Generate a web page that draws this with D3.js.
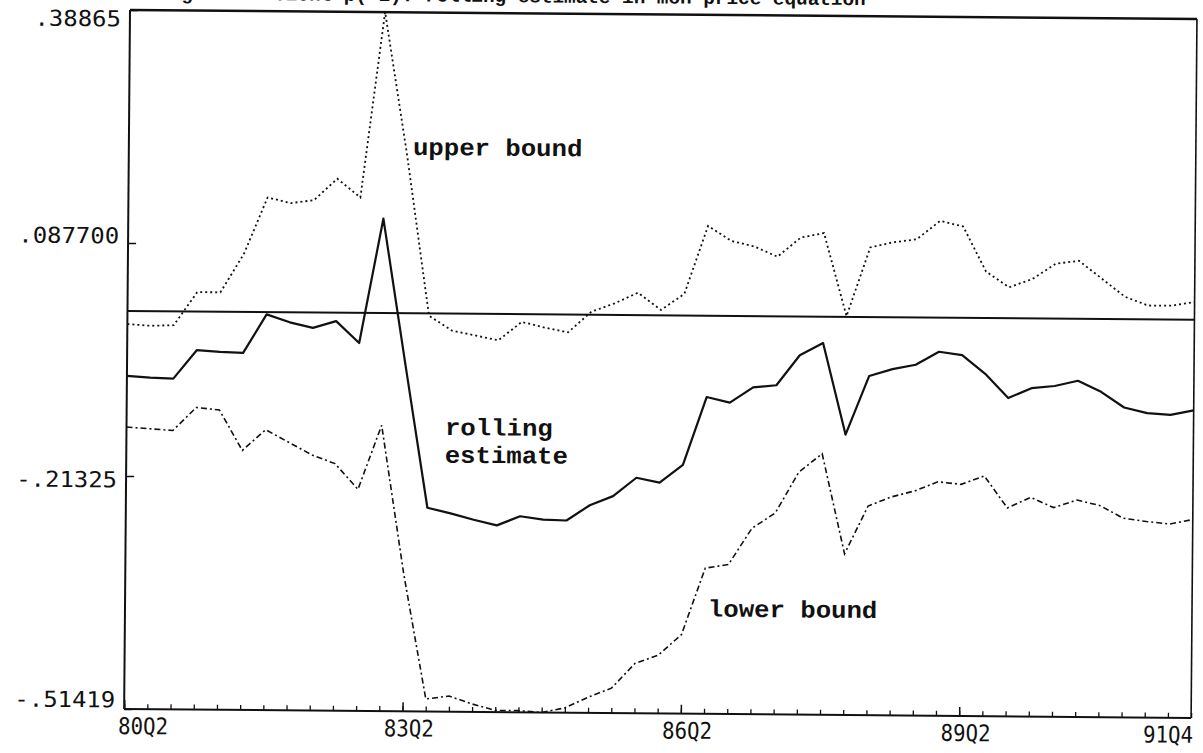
<!DOCTYPE html>
<html>
<head>
<meta charset="utf-8">
<script src="https://cdn.jsdelivr.net/npm/d3@7"></script>
<style>
  html, body { margin: 0; padding: 0; background: #fff; }
  svg { display: block; }
</style>
</head>
<body>
<svg id="chart" width="1203" height="753"></svg>
<script>
// ---------------- data ----------------
const quarters = [
  "80Q2","80Q3","80Q4",
  "81Q1","81Q2","81Q3","81Q4",
  "82Q1","82Q2","82Q3","82Q4",
  "83Q1","83Q2","83Q3","83Q4",
  "84Q1","84Q2","84Q3","84Q4",
  "85Q1","85Q2","85Q3","85Q4",
  "86Q1","86Q2","86Q3","86Q4",
  "87Q1","87Q2","87Q3","87Q4",
  "88Q1","88Q2","88Q3","88Q4",
  "89Q1","89Q2","89Q3","89Q4",
  "90Q1","90Q2","90Q3","90Q4",
  "91Q1","91Q2","91Q3","91Q4"
];

const upperBound = [
  -0.017, -0.019, -0.018, 0.025, 0.025, 0.075, 0.148, 0.141, 0.145, 0.173,
   0.149, 0.38865, 0.204, -0.003, -0.022, -0.028, -0.034, -0.010, -0.017, -0.023,
   0.004, 0.015, 0.029, 0.007, 0.028, 0.116, 0.097, 0.090, 0.077, 0.102,
   0.108, 0.001, 0.090, 0.097, 0.101, 0.125, 0.118, 0.060, 0.040, 0.051,
   0.071, 0.075, 0.052, 0.029, 0.018, 0.018, 0.023
];

const rollingEstimate = [
  -0.084, -0.086, -0.087, -0.050, -0.052, -0.053, -0.003, -0.013, -0.020, -0.011,
  -0.039, 0.122, -0.066, -0.251, -0.258, -0.266, -0.273, -0.261, -0.265, -0.266,
  -0.246, -0.234, -0.210, -0.216, -0.193, -0.105, -0.112, -0.092, -0.089, -0.050,
  -0.034, -0.152, -0.076, -0.067, -0.061, -0.044, -0.048, -0.072, -0.103, -0.090,
  -0.087, -0.080, -0.094, -0.114, -0.121, -0.123, -0.117
];

const lowerBound = [
  -0.150, -0.152, -0.154, -0.124, -0.127, -0.179, -0.152, -0.168, -0.184, -0.195,
  -0.228, -0.145, -0.336, -0.498, -0.494, -0.504, -0.512, -0.512, -0.51419, -0.508,
  -0.494, -0.482, -0.450, -0.439, -0.412, -0.326, -0.321, -0.274, -0.254, -0.201,
  -0.177, -0.306, -0.244, -0.232, -0.224, -0.212, -0.215, -0.204, -0.245, -0.231,
  -0.244, -0.234, -0.241, -0.257, -0.261, -0.264, -0.258
];

const yTickValues = [0.38865, 0.0877, -0.21325, -0.51419];
const yTickLabels = [".38865", ".087700", "-.21325", "-.51419"];
const xTickLabels = ["80Q2", "83Q2", "86Q2", "89Q2", "91Q4"];
const xMajorTicks = ["80Q2", "83Q2", "86Q2", "89Q2"];
const titleText = "Lag coefficient p(-1): rolling estimate in mon price equation";
const seriesLabels = ["upper bound", "rolling", "estimate", "lower bound"];

// ---------------- layout / style ----------------
const W = 1203, H = 753;
const plot = { left: 130, right: 1197, top: 10, bottom: 709 };
const scanTilt = 0.48;                  // scanned page is slightly rotated
const ink = "#111";
const yLabelShift = [9, -7, 4, -9];     // label offsets from their ticks (px)
const labelAnchors = [                  // annotation anchors in data units
  { q: 12.25, v: 0.2045 },
  { q: 13.73, v: -0.1569 },
  { q: 13.73, v: -0.1926 },
  { q: 25.13, v: -0.3886 }
];

const svg = d3.select("#chart");
svg.append("rect").attr("width", W).attr("height", H).attr("fill", "#fff");

const g = svg.append("g")
  .attr("transform", `rotate(${scanTilt} ${plot.left} ${plot.top})`);

const x = d3.scaleLinear()
  .domain([0, quarters.length - 1])
  .range([plot.left, plot.right]);
const y = d3.scaleLinear()
  .domain([yTickValues[3], yTickValues[0]])
  .range([plot.bottom, plot.top]);

// title (its top is cut off by the page edge, as on the scanned page)
g.append("text")
  .attr("x", 158).attr("y", -1)
  .attr("font-family", "'Liberation Mono', 'Courier New', monospace")
  .attr("font-weight", "bold")
  .attr("font-size", 19)
  .attr("textLength", titleText.length * 11.6)
  .attr("lengthAdjust", "spacingAndGlyphs")
  .attr("fill", ink)
  .text(titleText);

// x axis: minor ticks every quarter, major ticks at label positions
const gxMinor = g.append("g")
  .attr("transform", `translate(0,${plot.bottom})`)
  .call(d3.axisBottom(x).tickValues(d3.range(quarters.length))
    .tickSize(-5).tickSizeOuter(0).tickFormat(""));
gxMinor.select(".domain").remove();
gxMinor.selectAll("line").attr("stroke", ink).attr("stroke-width", 1.3);

const gxMajor = g.append("g")
  .attr("transform", `translate(0,${plot.bottom})`)
  .call(d3.axisBottom(x).tickValues(xMajorTicks.map(q => quarters.indexOf(q)))
    .tickSize(-9).tickSizeOuter(0).tickFormat(""));
gxMajor.select(".domain").remove();
gxMajor.selectAll("line").attr("stroke", ink).attr("stroke-width", 1.5);

// x tick labels
g.append("g").selectAll("text")
  .data(xTickLabels)
  .join("text")
  .attr("x", (d, i) => {
    const px = x(quarters.indexOf(d));
    if (i === 0) return px - 6;
    if (i === xTickLabels.length - 1) return px + 2;
    return px + 6.5;
  })
  .attr("y", plot.bottom + 25)
  .attr("text-anchor", (d, i) => i === 0 ? "start" : (i === xTickLabels.length - 1 ? "end" : "middle"))
  .attr("font-family", "'DejaVu Sans Mono', monospace")
  .attr("font-size", 23)
  .attr("textLength", 50)
  .attr("lengthAdjust", "spacingAndGlyphs")
  .attr("fill", ink)
  .text(d => d);

// y axis
const gy = g.append("g")
  .attr("transform", `translate(${plot.left},0)`)
  .call(d3.axisLeft(y).tickValues(yTickValues)
    .tickSize(-8).tickSizeOuter(0).tickPadding(9)
    .tickFormat((d, i) => yTickLabels[i]));
gy.select(".domain").remove();
gy.selectAll("line").attr("stroke", ink).attr("stroke-width", 1.5);
gy.selectAll("text")
  .attr("y", (d, i) => yLabelShift[i])
  .attr("font-family", "'DejaVu Sans Mono', monospace")
  .attr("font-size", 22)
  .attr("textLength", (d, i) => yTickLabels[i].length * 14.4)
  .attr("lengthAdjust", "spacingAndGlyphs")
  .attr("fill", ink);

// frame
g.append("line").attr("x1", plot.left).attr("x2", plot.right)
  .attr("y1", plot.top).attr("y2", plot.top)
  .attr("stroke", ink).attr("stroke-width", 2.5);
g.append("line").attr("x1", plot.left).attr("x2", plot.right)
  .attr("y1", plot.bottom).attr("y2", plot.bottom)
  .attr("stroke", ink).attr("stroke-width", 2);
g.append("line").attr("x1", plot.left).attr("x2", plot.left)
  .attr("y1", plot.top).attr("y2", plot.bottom)
  .attr("stroke", ink).attr("stroke-width", 2);
g.append("line").attr("x1", plot.right).attr("x2", plot.right)
  .attr("y1", plot.top).attr("y2", plot.bottom)
  .attr("stroke", ink).attr("stroke-width", 1.6);

// zero line
g.append("line")
  .attr("x1", x(0)).attr("x2", x(quarters.length - 1))
  .attr("y1", y(0)).attr("y2", y(0))
  .attr("stroke", ink).attr("stroke-width", 2);

// series
const line = d3.line().x((d, i) => x(i)).y(d => y(d));

g.append("path").datum(upperBound)
  .attr("d", line).attr("fill", "none")
  .attr("stroke", ink).attr("stroke-width", 1.8)
  .attr("stroke-dasharray", "2,3");

g.append("path").datum(lowerBound)
  .attr("d", line).attr("fill", "none")
  .attr("stroke", ink).attr("stroke-width", 1.6)
  .attr("stroke-dasharray", "6,3,2,3");

g.append("path").datum(rollingEstimate)
  .attr("d", line).attr("fill", "none")
  .attr("stroke", ink).attr("stroke-width", 2.2)
  .attr("stroke-linejoin", "round");

// series annotations
g.append("g").selectAll("text")
  .data(seriesLabels)
  .join("text")
  .attr("x", (d, i) => x(labelAnchors[i].q))
  .attr("y", (d, i) => y(labelAnchors[i].v))
  .attr("font-family", "'Liberation Mono', 'Courier New', monospace")
  .attr("font-weight", "bold")
  .attr("font-size", 24)
  .attr("textLength", d => d.length * 15.4)
  .attr("lengthAdjust", "spacingAndGlyphs")
  .attr("fill", ink)
  .text(d => d);
</script>
</body>
</html>
